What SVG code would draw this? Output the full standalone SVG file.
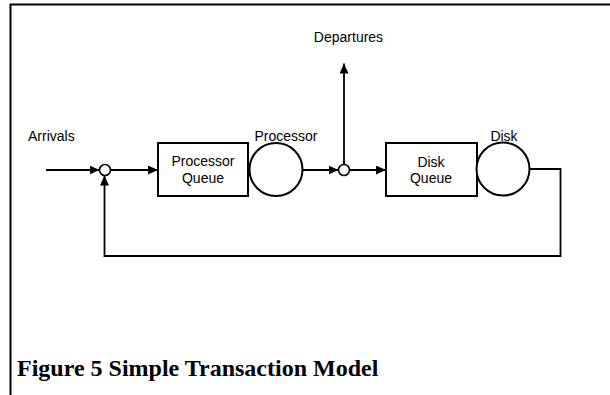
<svg xmlns="http://www.w3.org/2000/svg" width="610" height="395" viewBox="0 0 610 395">
  <style>
    .frame { stroke: #000; stroke-width: 2; fill: none; }
    .box { fill: #fff; stroke: #000; stroke-width: 2; }
    .server { fill: #fff; stroke: #000; stroke-width: 2; }
    .junction { fill: #fff; stroke: #000; stroke-width: 1.6; }
    .wire { fill: none; stroke: #000; stroke-width: 1.8; }
    .lbl { font-family: "Liberation Sans", Arial, sans-serif; font-size: 14px; fill: #000; }
    .mid { text-anchor: middle; }
    .caption { font-family: "Liberation Serif", "Times New Roman", serif; font-size: 24px; font-weight: bold; fill: #000; }
  </style>
  <defs>
    <marker id="arrow" viewBox="0 0 10 9" refX="10" refY="4.5" markerWidth="10" markerHeight="9" markerUnits="userSpaceOnUse" orient="auto">
      <path d="M0,0 L10,4.5 L0,9 Z" fill="#000"/>
    </marker>
  </defs>

  <rect width="610" height="395" fill="#fff"/>

  <!-- page frame: top rule and left rule -->
  <path class="frame" d="M10.5,395 V4.5 H610"/>

  <!-- flow connectors -->
  <g id="connectors">
    <line class="wire" x1="46" y1="170" x2="99.5" y2="170" marker-end="url(#arrow)"/>
    <line class="wire" x1="110.5" y1="170" x2="158" y2="170" marker-end="url(#arrow)"/>
    <line class="wire" x1="302.5" y1="170" x2="338.5" y2="170" marker-end="url(#arrow)"/>
    <line class="wire" x1="344" y1="164.5" x2="344" y2="63.5" marker-end="url(#arrow)"/>
    <line class="wire" x1="349.5" y1="170" x2="386" y2="170" marker-end="url(#arrow)"/>
    <path class="wire" d="M529.5,169 H560.5 V256 H104.5 V175.5" marker-end="url(#arrow)"/>
  </g>

  <g id="arrivals">
    <text class="lbl" x="28" y="140.5">Arrivals</text>
  </g>

  <g id="join">
    <circle class="junction" cx="105" cy="170" r="5.5"/>
  </g>

  <g id="processor-queue">
    <rect class="box" x="158" y="143" width="90" height="53"/>
    <text class="lbl mid" x="203" y="166">Processor</text>
    <text class="lbl mid" x="203" y="183">Queue</text>
  </g>

  <g id="processor">
    <circle class="server" cx="276" cy="169.5" r="26.5"/>
    <text class="lbl mid" x="286" y="141">Processor</text>
  </g>

  <g id="split">
    <circle class="junction" cx="344" cy="170" r="5.5"/>
  </g>

  <g id="departures">
    <text class="lbl mid" x="348.5" y="41.5">Departures</text>
  </g>

  <g id="disk-queue">
    <rect class="box" x="386" y="143" width="91" height="53"/>
    <text class="lbl mid" x="431" y="166.5">Disk</text>
    <text class="lbl mid" x="431" y="182.5">Queue</text>
  </g>

  <g id="disk">
    <circle class="server" cx="503" cy="169" r="26.5"/>
    <text class="lbl mid" x="504" y="140.5">Disk</text>
  </g>

  <text class="caption" x="17" y="376">Figure 5 Simple Transaction Model</text>
</svg>
